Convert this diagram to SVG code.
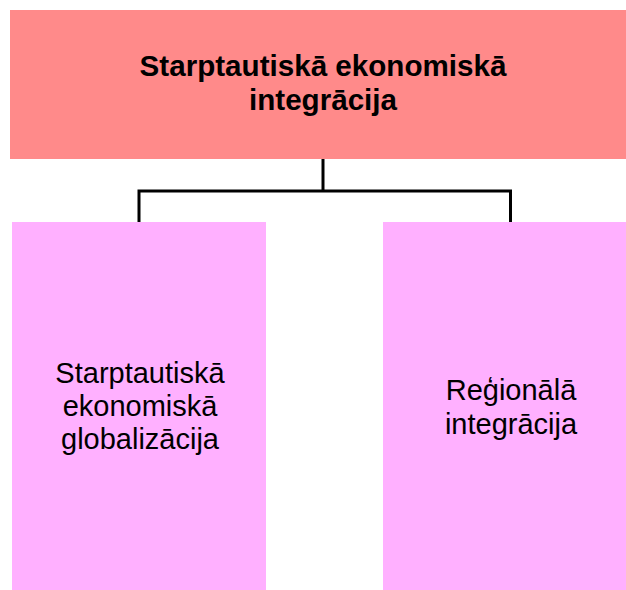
<svg xmlns="http://www.w3.org/2000/svg" width="626" height="590" viewBox="0 0 626 590">
<style>
.t{font-family:"Liberation Sans",Arial,sans-serif;font-size:29px;fill:#000;text-anchor:middle}
.b{font-weight:bold;font-size:29.6px}
.c{fill:none;stroke:#000;stroke-width:3;stroke-linejoin:miter}
</style>
<rect width="626" height="590" fill="#fff"/>
<g id="connectors">
<path class="c" d="M323,159 V191"/>
<path class="c" d="M139,222 V191 H510.5 V222"/>
</g>
<g id="node-top">
<rect x="10" y="10" width="616" height="149" fill="#FF8A8A"/>
<text class="t b" x="323" y="76">Starptautiskā ekonomiskā</text>
<text class="t b" x="323" y="110">integrācija</text>
</g>
<g id="node-left">
<rect x="12" y="222" width="254" height="368" fill="#FFB0FF"/>
<text class="t" x="140" y="383">Starptautiskā</text>
<text class="t" x="140" y="416">ekonomiskā</text>
<text class="t" x="140" y="449">globalizācija</text>
</g>
<g id="node-right">
<rect x="383" y="222" width="243" height="368" fill="#FFB0FF"/>
<text class="t" x="511" y="400">Reģionālā</text>
<text class="t" x="511" y="434">integrācija</text>
</g>
</svg>
